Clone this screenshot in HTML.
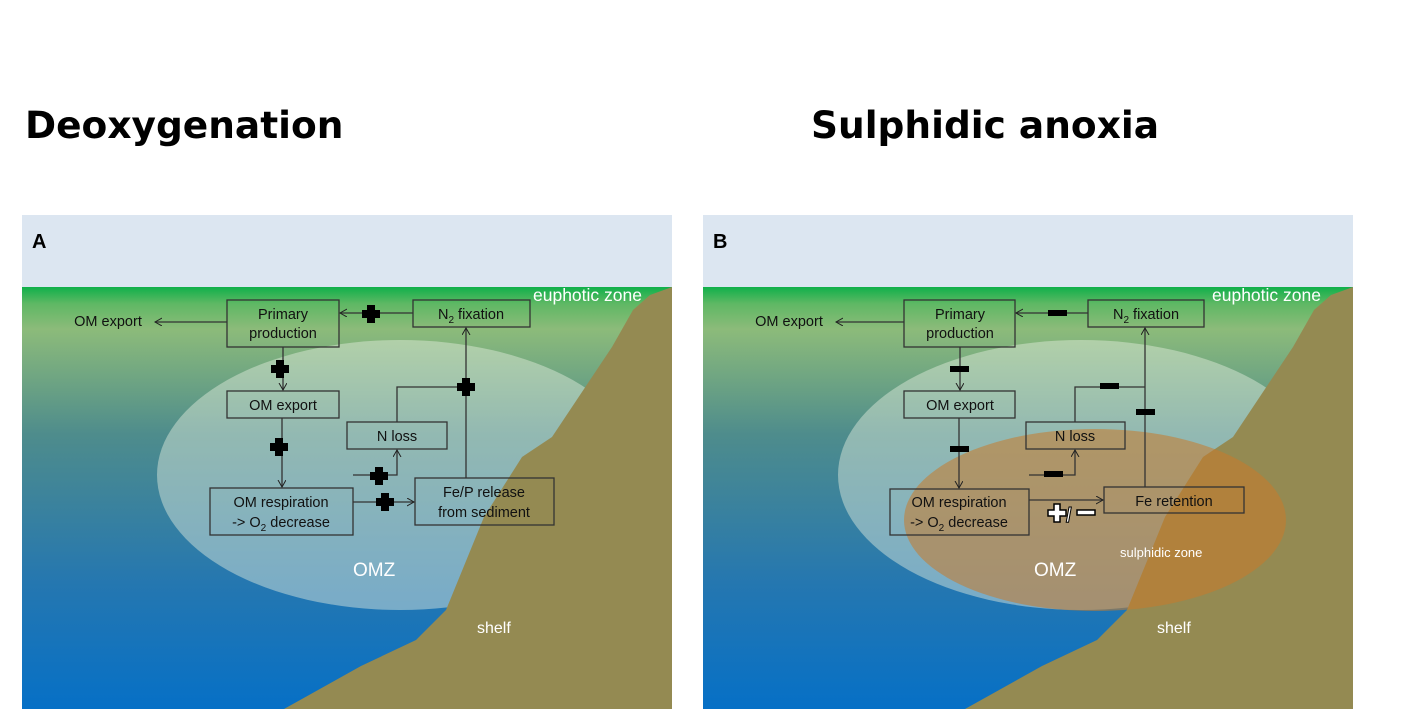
<!DOCTYPE html>
<html><head><meta charset="utf-8"><style>
body{margin:0;background:#fff;}
svg{display:block;font-family:"Liberation Sans",sans-serif;}
</style></head><body>
<svg width="1427" height="709" viewBox="0 0 1427 709">
<defs>
<linearGradient id="w" x1="0" y1="0" x2="0" y2="1">
<stop offset="0" stop-color="#10b04a"/>
<stop offset="0.04" stop-color="#5fb864"/>
<stop offset="0.1" stop-color="#8cbb7a"/>
<stop offset="0.35" stop-color="#4e8c8c"/>
<stop offset="0.7" stop-color="#2577b0"/>
<stop offset="1" stop-color="#0670c6"/>
</linearGradient>
<marker id="ar" markerWidth="10" markerHeight="10" refX="7" refY="4" orient="auto" markerUnits="userSpaceOnUse"><path d="M0,0 L7,4 L0,8" fill="none" stroke="#222" stroke-width="1"/></marker>
<g id="panel">
<rect x="0" y="0" width="650" height="72" fill="#dce6f1"/>
<rect x="0" y="72" width="650" height="422" fill="url(#w)"/>
<ellipse cx="378" cy="260" rx="243" ry="135" fill="#e6efe0" opacity="0.45"/>
</g>
<g id="shelf"><polygon points="650,72 628,80 611,95 590,132 530,222 500,242 462,302 424,395 394,425 339,451 262,494 650,494" fill="#948a52"/></g>
</defs>
<text x="25" y="138" font-size="37.5" font-weight="bold" font-family="DejaVu Sans, sans-serif">Deoxygenation</text>
<text x="811" y="138" font-size="37.5" font-weight="bold" font-family="DejaVu Sans, sans-serif">Sulphidic anoxia</text>

<!-- Panel A -->
<g transform="translate(22,215)"><use href="#panel"/><use href="#shelf"/></g>
<text x="32" y="248" font-size="20" font-weight="bold">A</text>
<text x="533" y="301" font-size="17.5" fill="#fff">euphotic zone</text>
<text x="353" y="576" font-size="19" fill="#fff">OMZ</text>
<text x="477" y="633" font-size="16" fill="#fff">shelf</text>
<g fill="none" stroke="#333" stroke-width="1.3">
<rect x="227" y="300" width="112" height="47"/>
<rect x="413" y="300" width="117" height="27"/>
<rect x="227" y="391" width="112" height="27"/>
<rect x="347" y="422" width="100" height="27"/>
<rect x="210" y="488" width="143" height="47"/>
<rect x="415" y="478" width="139" height="47"/>
<line x1="227" y1="322" x2="155" y2="322" marker-end="url(#ar)"/>
<line x1="413" y1="313" x2="340" y2="313" marker-end="url(#ar)"/>
<line x1="283" y1="347" x2="283" y2="390" marker-end="url(#ar)"/>
<line x1="282" y1="418" x2="282" y2="487" marker-end="url(#ar)"/>
<polyline points="353,475 397,475 397,450" marker-end="url(#ar)"/>
<line x1="353" y1="502" x2="414" y2="502" marker-end="url(#ar)"/>
<polyline points="397,422 397,387 466,387"/>
<line x1="466" y1="478" x2="466" y2="328" marker-end="url(#ar)"/>
</g>
<g font-size="14.5" fill="#111" text-anchor="middle">
<text x="283" y="319">Primary</text><text x="283" y="338">production</text>
<text x="471" y="319">N<tspan font-size="10" dy="4">2</tspan><tspan dy="-4"> fixation</tspan></text>
<text x="283" y="410">OM export</text>
<text x="397" y="441">N loss</text>
<text x="281" y="507">OM respiration</text><text x="281" y="527">-&gt; O<tspan font-size="10" dy="4">2</tspan><tspan dy="-4"> decrease</tspan></text>
<text x="484" y="497">Fe/P release</text><text x="484" y="517">from sediment</text>
<text x="108" y="326">OM export</text>
</g>
<g fill="#000">
<path d="M367,305h8v5h5v8h-5v5h-8v-5h-5v-8h5z"/>
<path d="M276,360h8v5h5v8h-5v5h-8v-5h-5v-8h5z"/>
<path d="M275,438h8v5h5v8h-5v5h-8v-5h-5v-8h5z"/>
<path d="M375,467h8v5h5v8h-5v5h-8v-5h-5v-8h5z"/>
<path d="M381,493h8v5h5v8h-5v5h-8v-5h-5v-8h5z"/>
<path d="M462,378h8v5h5v8h-5v5h-8v-5h-5v-8h5z"/>
</g>

<!-- Panel B -->
<g transform="translate(703,215)"><use href="#panel"/><use href="#shelf"/>
<ellipse cx="392" cy="305" rx="191" ry="91" fill="#c97a2a" opacity="0.55"/></g>
<text x="713" y="248" font-size="20" font-weight="bold">B</text>
<text x="1212" y="301" font-size="17.5" fill="#fff">euphotic zone</text>
<text x="1034" y="576" font-size="19" fill="#fff">OMZ</text>
<text x="1157" y="633" font-size="16" fill="#fff">shelf</text>
<text x="1120" y="557" font-size="13" fill="#fff">sulphidic zone</text>
<g fill="none" stroke="#333" stroke-width="1.3">
<rect x="904" y="300" width="111" height="47"/>
<rect x="1088" y="300" width="116" height="27"/>
<rect x="904" y="391" width="111" height="27"/>
<rect x="1026" y="422" width="99" height="27"/>
<rect x="890" y="489" width="139" height="46"/>
<rect x="1104" y="487" width="140" height="26"/>
<line x1="904" y1="322" x2="836" y2="322" marker-end="url(#ar)"/>
<line x1="1088" y1="313" x2="1016" y2="313" marker-end="url(#ar)"/>
<line x1="960" y1="347" x2="960" y2="390" marker-end="url(#ar)"/>
<line x1="959" y1="418" x2="959" y2="488" marker-end="url(#ar)"/>
<polyline points="1029,475 1075,475 1075,450" marker-end="url(#ar)"/>
<line x1="1029" y1="500" x2="1103" y2="500" marker-end="url(#ar)"/>
<polyline points="1075,422 1075,387 1145,387"/>
<line x1="1145" y1="487" x2="1145" y2="328" marker-end="url(#ar)"/>
</g>
<g font-size="14.5" fill="#111" text-anchor="middle">
<text x="960" y="319">Primary</text><text x="960" y="338">production</text>
<text x="1146" y="319">N<tspan font-size="10" dy="4">2</tspan><tspan dy="-4"> fixation</tspan></text>
<text x="960" y="410">OM export</text>
<text x="1075" y="441">N loss</text>
<text x="959" y="507">OM respiration</text><text x="959" y="527">-&gt; O<tspan font-size="10" dy="4">2</tspan><tspan dy="-4"> decrease</tspan></text>
<text x="1174" y="506">Fe retention</text>
<text x="789" y="326">OM export</text>
</g>
<g fill="#000">
<rect x="1048" y="310" width="19" height="6"/>
<rect x="950" y="366" width="19" height="6"/>
<rect x="950" y="446" width="19" height="6"/>
<rect x="1044" y="471" width="19" height="6"/>
<rect x="1100" y="383" width="19" height="6"/>
<rect x="1136" y="409" width="19" height="6"/>
</g>
<g stroke="#000" stroke-width="1.5" fill="#fff">
<path d="M1054,504h6v6h6v6h-6v6h-6v-6h-6v-6h6z"/>
<rect x="1077" y="510" width="18" height="5"/>
</g>
<text x="1066" y="522" font-size="20" font-weight="bold" fill="#fff" stroke="#000" stroke-width="1">/</text>
</svg>
</body></html>
